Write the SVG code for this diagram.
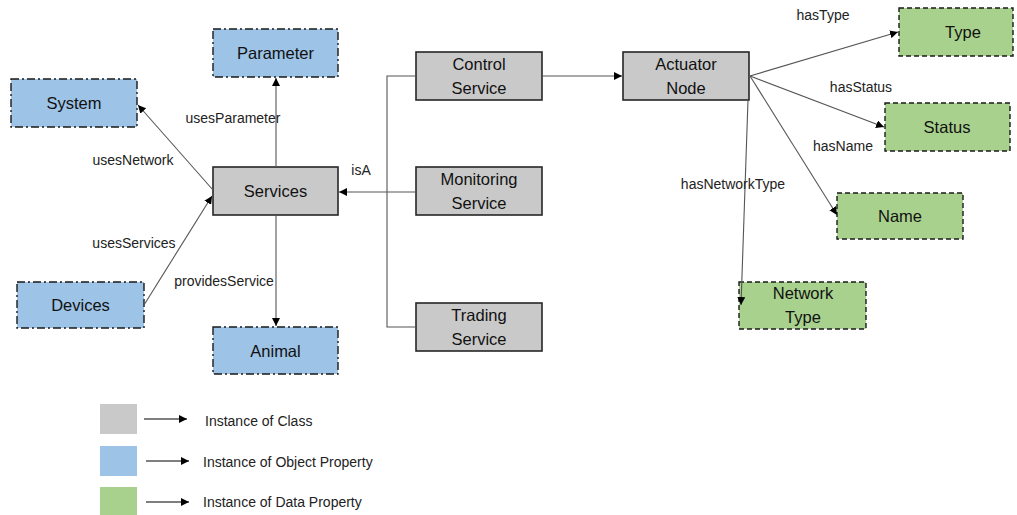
<svg xmlns="http://www.w3.org/2000/svg" width="1017" height="515" viewBox="0 0 1017 515">
  <defs>
    <marker id="arr" viewBox="0 0 10 10" refX="10" refY="5" markerWidth="8" markerHeight="8" markerUnits="userSpaceOnUse" orient="auto">
      <path d="M0,0 L10,5 L0,10 z" fill="#000"/>
    </marker>
  </defs>
  <style>
    .cls { fill: #c9c9c9; stroke: #262626; stroke-width: 1.6; }
    .obj { fill: #9dc3e6; stroke: #1a1a1a; stroke-width: 1.4; stroke-dasharray: 8 3 2 3; }
    .dat { fill: #a9d18e; stroke: #1a1a1a; stroke-width: 1.4; stroke-dasharray: 5 3; }
    .t { font-family: "Liberation Sans", Arial, sans-serif; font-size: 16.5px; fill: #111; text-anchor: middle; }
    .lbl { font-family: "Liberation Sans", Arial, sans-serif; font-size: 14px; fill: #222; text-anchor: middle; }
    .leg { font-family: "Liberation Sans", Arial, sans-serif; font-size: 14px; fill: #222; }
    .ln { fill: none; stroke: #555; stroke-width: 1.1; }
    .la { fill: none; stroke: #000; stroke-width: 1.1; }
  </style>
  <rect width="1017" height="515" fill="#fff"/>

  <!-- class instances -->
  <g id="services"><rect class="cls" x="213" y="167" width="125" height="48"/><text class="t" x="275.5" y="197">Services</text></g>
  <g id="control-service"><rect class="cls" x="416" y="52" width="126" height="48"/><text class="t" x="479" y="70">Control</text><text class="t" x="479" y="94">Service</text></g>
  <g id="monitoring-service"><rect class="cls" x="416" y="167" width="126" height="48"/><text class="t" x="479" y="185">Monitoring</text><text class="t" x="479" y="209">Service</text></g>
  <g id="trading-service"><rect class="cls" x="416" y="303" width="126" height="48"/><text class="t" x="479" y="321">Trading</text><text class="t" x="479" y="345">Service</text></g>
  <g id="actuator-node"><rect class="cls" x="623" y="52" width="126" height="48"/><text class="t" x="686" y="70">Actuator</text><text class="t" x="686" y="94">Node</text></g>

  <!-- object property instances -->
  <g id="parameter"><rect class="obj" x="213" y="29" width="125" height="48"/><text class="t" x="275.5" y="59">Parameter</text></g>
  <g id="system"><rect class="obj" x="11" y="79" width="126" height="48"/><text class="t" x="74" y="109">System</text></g>
  <g id="devices"><rect class="obj" x="17" y="282" width="127" height="46"/><text class="t" x="80.5" y="311">Devices</text></g>
  <g id="animal"><rect class="obj" x="213" y="327" width="125" height="47"/><text class="t" x="275.5" y="357">Animal</text></g>

  <!-- data property instances -->
  <g id="type"><rect class="dat" x="899" y="8" width="114" height="48"/><text class="t" x="963" y="38">Type</text></g>
  <g id="status"><rect class="dat" x="885" y="103" width="125" height="48"/><text class="t" x="947" y="133">Status</text></g>
  <g id="name"><rect class="dat" x="837" y="193" width="126" height="46"/><text class="t" x="900" y="222">Name</text></g>
  <g id="network-type"><rect class="dat" x="739" y="282" width="127" height="47"/><text class="t" x="803" y="299">Network</text><text class="t" x="803" y="323">Type</text></g>

  <!-- connectors, drawn over the boxes so every arrowhead stays visible -->
  <g id="connectors">
    <line class="ln" x1="276" y1="167" x2="276" y2="78" marker-end="url(#arr)"/>
    <line class="ln" x1="213" y1="190" x2="138" y2="105" marker-end="url(#arr)"/>
    <line class="ln" x1="144" y1="305" x2="212" y2="196" marker-end="url(#arr)"/>
    <line class="ln" x1="276" y1="215" x2="276" y2="326" marker-end="url(#arr)"/>
    <polyline class="ln" points="416,76 387,76 387,327 416,327"/>
    <line class="ln" x1="416" y1="192" x2="339" y2="192" marker-end="url(#arr)"/>
    <line class="ln" x1="542" y1="76" x2="622" y2="76" marker-end="url(#arr)"/>
    <line class="ln" x1="750" y1="76" x2="898" y2="32" marker-end="url(#arr)"/>
    <line class="ln" x1="750" y1="76" x2="884" y2="127" marker-end="url(#arr)"/>
    <line class="ln" x1="750" y1="76" x2="837" y2="215" marker-end="url(#arr)"/>
    <line class="ln" x1="748" y1="100" x2="741" y2="305" marker-end="url(#arr)"/>

    <text class="lbl" x="233" y="123">usesParameter</text>
    <text class="lbl" x="133" y="165">usesNetwork</text>
    <text class="lbl" x="134" y="248">usesServices</text>
    <text class="lbl" x="224" y="286">providesService</text>
    <text class="lbl" x="361" y="175">isA</text>
    <text class="lbl" x="823" y="20">hasType</text>
    <text class="lbl" x="861" y="92">hasStatus</text>
    <text class="lbl" x="843" y="151">hasName</text>
    <text class="lbl" x="733" y="189">hasNetworkType</text>
  </g>

  <!-- legend -->
  <g id="legend">
    <rect x="100" y="404" width="37" height="30" fill="#c9c9c9"/>
    <rect x="100" y="446" width="37" height="30" fill="#9dc3e6"/>
    <rect x="100" y="487" width="37" height="28" fill="#a9d18e"/>
    <line class="la" x1="144" y1="419" x2="187" y2="419" marker-end="url(#arr)"/>
    <line class="la" x1="146" y1="461" x2="189" y2="461" marker-end="url(#arr)"/>
    <line class="la" x1="146" y1="502" x2="189" y2="502" marker-end="url(#arr)"/>
    <text class="leg" x="205" y="426">Instance of Class</text>
    <text class="leg" x="203" y="467">Instance of Object Property</text>
    <text class="leg" x="203" y="507">Instance of Data Property</text>
  </g>
</svg>
